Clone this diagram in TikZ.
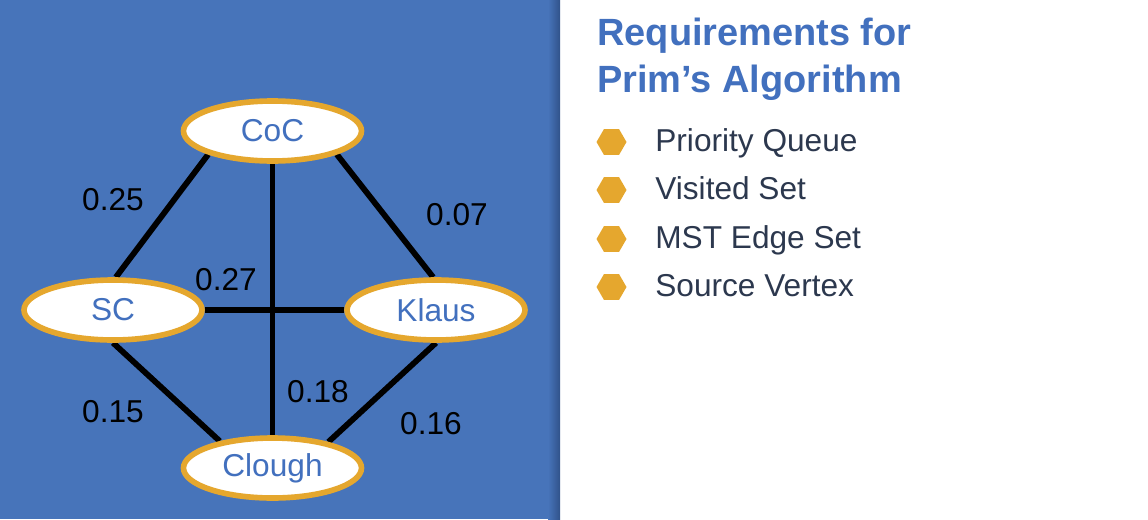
\documentclass[tikz,border=0pt]{standalone}
\usepackage{fontspec}
\setmainfont{Liberation Sans}
\usepackage{xcolor}
\usetikzlibrary{shapes.geometric,backgrounds,positioning}
\definecolor{panelblue}{RGB}{71,116,186}
\definecolor{paneledge}{RGB}{48,82,138}
\definecolor{titleblue}{RGB}{66,112,190}
\definecolor{nodegold}{RGB}{229,167,46}
\definecolor{itemgray}{RGB}{44,56,78}

\begin{document}
\begin{tikzpicture}[
    vertex/.style={draw=nodegold, fill=white, ellipse, line width=3.2pt, inner sep=0pt,
      minimum width=3.56cm, minimum height=1.2cm, text=titleblue, font=\fontsize{18}{21}\selectfont},
    weight/.style={text=black, inner sep=0pt, font=\fontsize{18}{21}\selectfont},
    edge/.style={line width=3.3pt, black},
    hexbullet/.style={regular polygon, regular polygon sides=6, fill=nodegold, inner sep=0pt, minimum size=0.6cm},
    item/.style={anchor=base west, inner sep=0pt, text=itemgray, font=\fontsize{18}{21}\selectfont},
    heading/.style={anchor=base west, inner sep=0pt, text=titleblue, font=\bfseries\fontsize{21.6}{26}\selectfont}
]
  \useasboundingbox (0,0) rectangle (22.96,10.38);
  % left panel
  \begin{scope}[on background layer]
    \fill[panelblue] (0,0) rectangle (11.06,10.38);
    \shade[left color=panelblue, right color=paneledge] (10.96,0) rectangle (11.2,10.38);
  \end{scope}

  % graph
  \node[vertex] (coc) at (5.45,7.76) {CoC};
  \node[vertex] (sc) at (2.26,4.18) {SC};
  \node[vertex] (klaus) at (8.72,4.18) {Klaus};
  \node[vertex] (clough) at (5.45,1.02) {Clough};

  \begin{scope}[on background layer]
    \draw[edge] (coc.200) -- (sc.85);
    \draw[edge] (coc.340) -- (klaus.95);
    \draw[edge] (coc.south) -- (clough.north);
    \draw[edge] (sc.east) -- (klaus.west);
    \draw[edge] (sc.south) -- (clough.153);
    \draw[edge] (klaus.south) -- (clough.25);
  \end{scope}

  \node[weight] (w1) at (2.26,6.38) {0.25};
  \node[weight] (w2) at (9.14,6.08) {0.07};
  \node[weight] (w3) at (4.52,4.78) {0.27};
  \node[weight] (w4) at (2.26,2.14) {0.15};
  \node[weight] (w5) at (6.36,2.54) {0.18};
  \node[weight] (w6) at (8.62,1.90) {0.16};

  % requirements list
  \node[heading] (title1) at (11.94,9.48) {Requirements for};
  \node[heading] (title2) at (11.94,8.54) {Prim’s Algorithm};

  \node[hexbullet] (b1) at (12.23,7.54) {};
  \node[hexbullet] (b2) at (12.23,6.58) {};
  \node[hexbullet] (b3) at (12.23,5.60) {};
  \node[hexbullet] (b4) at (12.23,4.64) {};
  \node[item] (i1) at (13.10,7.36) {Priority Queue};
  \node[item] (i2) at (13.10,6.40) {Visited Set};
  \node[item] (i3) at (13.10,5.42) {MST Edge Set};
  \node[item] (i4) at (13.10,4.46) {Source Vertex};
\end{tikzpicture}
\end{document}
